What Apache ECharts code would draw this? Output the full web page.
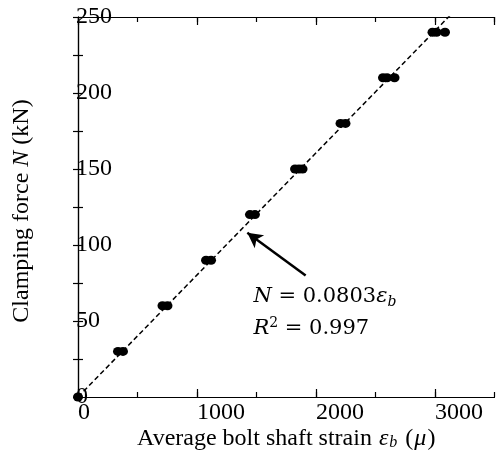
<!DOCTYPE html>
<html>
<head>
<meta charset="utf-8">
<script src="https://cdn.jsdelivr.net/npm/echarts@6/dist/echarts.min.js"></script>
<style>
  html, body { margin: 0; padding: 0; background: #fff; }
  #chart { width: 499px; height: 453px; }
</style>
</head>
<body>
<div id="chart"></div>
<script>
// Clamping force levels (kN) and the averaged bolt shaft strain readings at each level
const forceLevels = [0, 30, 60, 90, 120, 150, 180, 210, 240];
const strainReadings = [
  [0],
  [336, 378],
  [710, 752],
  [1076, 1118],
  [1445, 1487],
  [1824, 1857, 1887],
  [2206, 2248],
  [2563, 2597, 2660],
  [2979, 3013, 3084]
];

// Linear fit through the origin: N = k * strain
const fitSlope = 0.0803;
const fitR2 = 0.997;

// Axis ranges and labelled ticks
const xRange = [0, 3500];
const yRange = [0, 250];
const xTickLabels = [0, 1000, 2000, 3000];
const yTickLabels = [0, 50, 100, 150, 200, 250];

// Arrow pointing at the fit line, and where the equation sits (data units)
const arrowFrom = [1913, 80];
const arrowTo = [1423, 108];
const noteAnchor = [1474, 76.5];

const serif = '"Liberation Serif", "Times New Roman", serif';
const mathFont = '"DejaVu Serif", serif';

const points = [];
forceLevels.forEach((f, i) => strainReadings[i].forEach(s => points.push([s, f])));

const fitLine = [[xRange[0], xRange[0] * fitSlope], [xRange[1], xRange[1] * fitSlope]];

const frame = { show: true, lineStyle: { color: '#000', width: 1.2 } };

function xAxisDef(position, interval, tickLen, withLabels) {
  return {
    type: 'value', position, min: xRange[0], max: xRange[1], interval,
    axisLine: frame,
    axisTick: { show: true, inside: true, length: tickLen, lineStyle: { color: '#000', width: 1.2 } },
    splitLine: { show: false },
    axisLabel: withLabels ? {
      show: true, align: 'left', margin: 4, color: '#000',
      fontFamily: serif, fontSize: 24, showMaxLabel: false,
      formatter: v => xTickLabels.includes(v) ? String(v) : ''
    } : { show: false }
  };
}

const chart = echarts.init(document.getElementById('chart'), null, { renderer: 'canvas' });

chart.setOption({
  animation: false,
  backgroundColor: '#fff',
  grid: { left: 78, right: 4.5, top: 17, bottom: 56, containLabel: false, outerBoundsMode: 'none' },
  xAxis: [
    Object.assign(xAxisDef('bottom', 500, 5, false), {
      name: 'Average bolt shaft strain {i|ε}{sub|b} ({i|μ})',
      nameLocation: 'middle', nameGap: 30,
      nameTextStyle: {
        fontFamily: serif, fontSize: 24, color: '#000',
        rich: {
          i: { fontFamily: serif, fontStyle: 'italic', fontSize: 24, color: '#000', padding: [0, 1, 0, 1] },
          sub: { fontFamily: serif, fontStyle: 'italic', fontSize: 16, color: '#000', padding: [8, 2, 0, 0] }
        }
      }
    }),
    xAxisDef('bottom', 1000, 8, true),
    xAxisDef('top', 500, 5, false),
    xAxisDef('top', 1000, 8, false)
  ],
  yAxis: [
    {
      type: 'value', position: 'left', min: yRange[0], max: yRange[1], interval: 25,
      axisLine: frame,
      axisTick: { show: true, inside: true, length: 5, lineStyle: { color: '#000', width: 1.2 } },
      splitLine: { show: false },
      axisLabel: {
        show: true, inside: true, margin: -2, color: '#000',
        fontFamily: serif, fontSize: 24,
        formatter: v => yTickLabels.includes(v) ? String(v) : ''
      },
      name: 'Clamping force {i|N} (kN)',
      nameLocation: 'middle', nameGap: 44,
      nameTextStyle: {
        fontFamily: serif, fontSize: 24, color: '#000', padding: [0, 8, 0, 0],
        rich: { i: { fontFamily: serif, fontStyle: 'italic', fontSize: 24, color: '#000' } }
      }
    },
    {
      type: 'value', position: 'right', min: yRange[0], max: yRange[1], interval: 25,
      axisLine: frame,
      axisTick: { show: true, inside: true, length: 5, lineStyle: { color: '#000', width: 1.2 } },
      splitLine: { show: false },
      axisLabel: { show: false }
    }
  ],
  series: [
    {
      type: 'line', xAxisIndex: 0, yAxisIndex: 0,
      data: fitLine, showSymbol: false, symbol: 'none', clip: true,
      lineStyle: { color: '#000', width: 1.5, type: [5, 3] },
      silent: true,
      markLine: {
        silent: true,
        symbol: ['none', 'arrow'], symbolSize: [12, 15],
        label: { show: false },
        lineStyle: { color: '#000', width: 2.5, type: 'solid' },
        data: [[{ coord: arrowFrom }, { coord: arrowTo }]]
      }
    },
    {
      type: 'scatter', xAxisIndex: 0, yAxisIndex: 0,
      data: points, symbol: 'circle', symbolSize: [10, 9],
      itemStyle: { color: '#000', opacity: 1 }, clip: false
    }
  ]
});

// Fit equation next to the arrow, anchored in data coordinates
const at = chart.convertToPixel({ xAxisIndex: 0, yAxisIndex: 0 }, noteAnchor);
chart.setOption({
  graphic: [{
    type: 'text', left: at[0], top: at[1], silent: true,
    style: {
      text: '{i|N} = ' + fitSlope.toFixed(4) + '{i|ε}{sub|b}\n{i|R}{sup|2} = ' + fitR2.toFixed(3),
      fontFamily: mathFont, fontSize: 21, fill: '#000', lineHeight: 32,
      rich: {
        i: { fontFamily: mathFont, fontStyle: 'italic', fontSize: 21, lineHeight: 32 },
        sub: { fontFamily: mathFont, fontStyle: 'italic', fontSize: 14, lineHeight: 32, padding: [12, 0, 0, 0] },
        sup: { fontFamily: mathFont, fontSize: 14, lineHeight: 32, padding: [0, 0, 10, 0] }
      }
    }
  }]
});
</script>
</body>
</html>
